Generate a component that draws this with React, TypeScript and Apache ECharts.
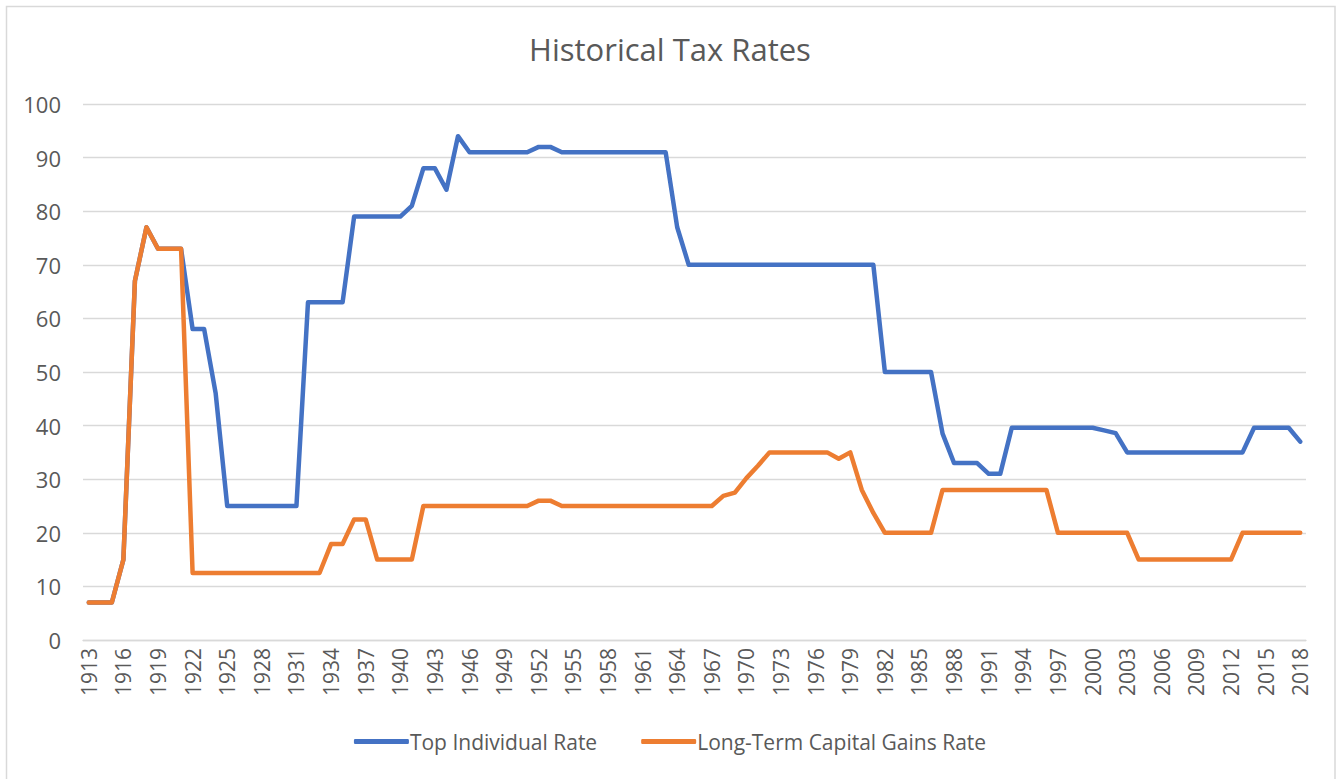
import React, { useEffect, useRef } from "react";
import * as echarts from "echarts";

const years = [
  "1913", "1914", "1915", "1916", "1917", "1918", "1919", "1920", "1921", "1922",
  "1923", "1924", "1925", "1926", "1927", "1928", "1929", "1930", "1931", "1932",
  "1933", "1934", "1935", "1936", "1937", "1938", "1939", "1940", "1941", "1942",
  "1943", "1944", "1945", "1946", "1947", "1948", "1949", "1950", "1951", "1952",
  "1953", "1954", "1955", "1956", "1957", "1958", "1959", "1960", "1961", "1962",
  "1963", "1964", "1965", "1966", "1967", "1968", "1969", "1970", "1971", "1972",
  "1973", "1974", "1975", "1976", "1977", "1978", "1979", "1980", "1981", "1982",
  "1983", "1984", "1985", "1986", "1987", "1988", "1989", "1990", "1991", "1992",
  "1993", "1994", "1995", "1996", "1997", "1998", "1999", "2000", "2001", "2002",
  "2003", "2004", "2005", "2006", "2007", "2008", "2009", "2010", "2011", "2012",
  "2013", "2014", "2015", "2016", "2017", "2018",
];

// Top Individual Rate, 1913..2018
const topIndividualRate = [
  7, 7, 7, 15, 67, 77, 73, 73, 73, 58,
  58, 46, 25, 25, 25, 25, 25, 25, 25, 63,
  63, 63, 63, 79, 79, 79, 79, 79, 81, 88,
  88, 84, 94, 91, 91, 91, 91, 91, 91, 92,
  92, 91, 91, 91, 91, 91, 91, 91, 91, 91,
  91, 77, 70, 70, 70, 70, 70, 70, 70, 70,
  70, 70, 70, 70, 70, 70, 70, 70, 70, 50,
  50, 50, 50, 50, 38.5, 33, 33, 33, 31, 31,
  39.6, 39.6, 39.6, 39.6, 39.6, 39.6, 39.6, 39.6, 39.1, 38.6,
  35, 35, 35, 35, 35, 35, 35, 35, 35, 35,
  35, 39.6, 39.6, 39.6, 39.6, 37,
];

// Long-Term Capital Gains Rate, 1913..2018
const capitalGainsRate = [
  7, 7, 7, 15, 67, 77, 73, 73, 73, 12.5,
  12.5, 12.5, 12.5, 12.5, 12.5, 12.5, 12.5, 12.5, 12.5, 12.5,
  12.5, 17.9, 17.9, 22.5, 22.5, 15, 15, 15, 15, 25,
  25, 25, 25, 25, 25, 25, 25, 25, 25, 26,
  26, 25, 25, 25, 25, 25, 25, 25, 25, 25,
  25, 25, 25, 25, 25, 26.9, 27.5, 30.2, 32.5, 35,
  35, 35, 35, 35, 35, 33.8, 35, 28, 23.7, 20,
  20, 20, 20, 20, 28, 28, 28, 28, 28, 28,
  28, 28, 28, 28, 20, 20, 20, 20, 20, 20,
  20, 15, 15, 15, 15, 15, 15, 15, 15, 15,
  20, 20, 20, 20, 20, 20,
];

const seriesNames = ["Top Individual Rate", "Long-Term Capital Gains Rate"];
const seriesColors = ["#4472C4", "#ED7D31"];

export default function App() {
  const ref = useRef<HTMLDivElement>(null);

  useEffect(() => {
    document.body.style.margin = "0";
    if (!ref.current) return;
    const chart = echarts.init(ref.current, null, { renderer: "svg" });
    const font = "'Open Sans', 'Noto Sans', sans-serif";
    chart.setOption({
      animation: false,
      backgroundColor: "#ffffff",
      textStyle: { fontFamily: font },
      title: {
        text: "Historical Tax Rates",
        left: "center",
        top: 28,
        textStyle: {
          fontFamily: font,
          fontSize: 31,
          fontWeight: "normal",
          color: "#595959",
        },
      },
      graphic: [
        {
          type: "rect",
          shape: { x: 6.5, y: 6.5, width: 1328.5, height: 780 },
          style: { fill: "none", stroke: "#d9d9d9", lineWidth: 1.5 },
          silent: true,
        },
      ],
      legend: {
        bottom: 22,
        left: "center",
        itemGap: 44,
        itemWidth: 55,
        itemHeight: 5,
        icon: "roundRect",
        data: seriesNames,
        textStyle: {
          fontFamily: font,
          fontSize: 21,
          color: "#595959",
          padding: [0, 0, 0, -4],
        },
      },
      grid: {
        left: 83,
        right: 34,
        top: 104,
        bottom: 139,
        containLabel: false,
      },
      xAxis: {
        type: "category",
        data: years,
        boundaryGap: true,
        axisLine: { show: true, lineStyle: { color: "#d9d9d9", width: 1.3 } },
        axisTick: { show: false },
        axisLabel: {
          interval: 2,
          rotate: 90,
          fontFamily: font,
          fontSize: 21,
          color: "#595959",
          margin: 8,
        },
        splitLine: { show: false },
      },
      yAxis: {
        type: "value",
        min: 0,
        max: 100,
        interval: 10,
        axisLine: { show: false },
        axisTick: { show: false },
        axisLabel: {
          fontFamily: font,
          fontSize: 22,
          color: "#595959",
          margin: 22,
        },
        splitLine: { show: true, lineStyle: { color: "#d9d9d9", width: 1.3 } },
      },
      series: [
        {
          name: seriesNames[0],
          type: "line",
          data: topIndividualRate,
          symbol: "none",
          lineStyle: { color: seriesColors[0], width: 4.5, cap: "round", join: "round" },
          itemStyle: { color: seriesColors[0] },
        },
        {
          name: seriesNames[1],
          type: "line",
          data: capitalGainsRate,
          symbol: "none",
          lineStyle: { color: seriesColors[1], width: 4.5, cap: "round", join: "round" },
          itemStyle: { color: seriesColors[1] },
        },
      ],
    });
    return () => chart.dispose();
  }, []);

  return <div ref={ref} style={{ width: 1340, height: 779 }} />;
}
